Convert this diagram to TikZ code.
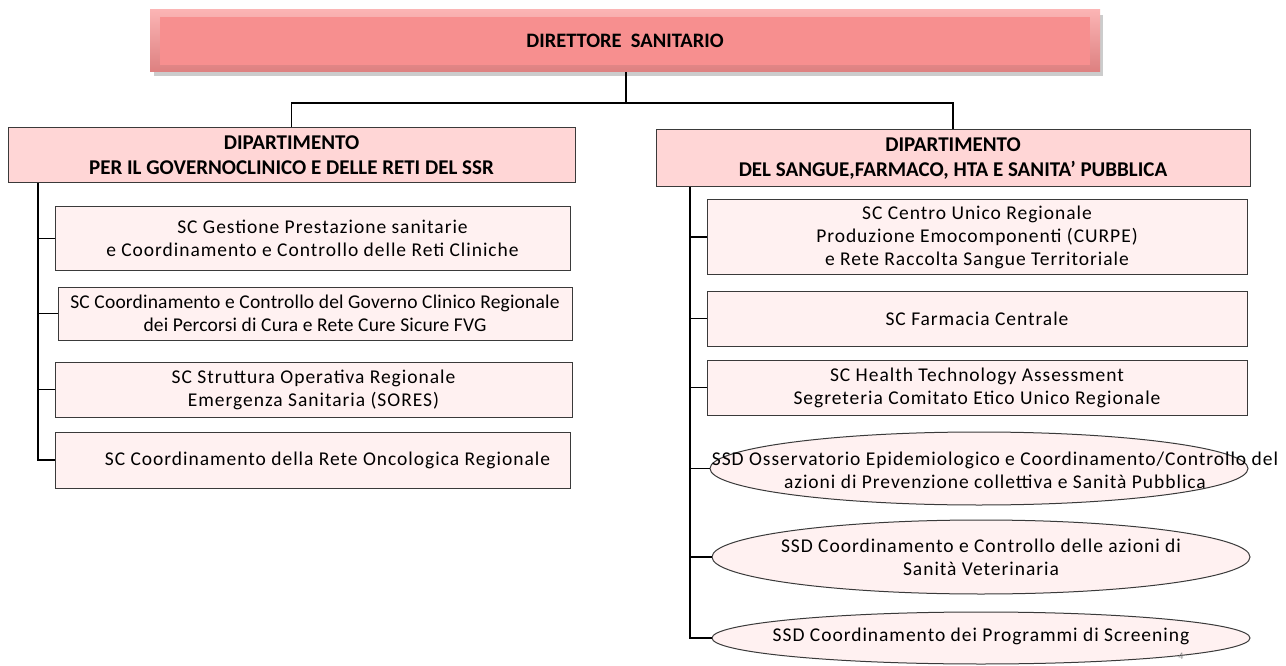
\documentclass[tikz,border=0pt]{standalone}
\usepackage{fontspec}
\setmainfont{Carlito}
\newfontfamily\bodyfont[LetterSpace=5]{Carlito}
\newfontfamily\tightfont[LetterSpace=1]{Carlito}
\usetikzlibrary{shapes.geometric}
\definecolor{topfill}{HTML}{F78F8F}
\definecolor{topedge}{HTML}{FBB4B4}
\definecolor{deptfill}{HTML}{FFD6D6}
\definecolor{subfill}{HTML}{FFF1F1}
\definecolor{edgecol}{HTML}{3A3A3A}
\tikzset{
  deptbox/.style={draw=edgecol, line width=1pt, fill=deptfill, rectangle, inner sep=0pt,
    align=center, font=\fontsize{21}{25}\selectfont\bfseries},
  subbox/.style={draw=edgecol, line width=1pt, fill=subfill, rectangle, inner sep=0pt,
    align=center, font=\bodyfont\fontsize{19.5}{23}\selectfont},
  ellbox/.style={draw=edgecol, line width=1pt, fill=subfill, ellipse, inner sep=0pt},
  elltext/.style={align=center, font=\bodyfont\fontsize{19.5}{23}\selectfont, inner sep=0pt},
  conn/.style={draw=black, line width=1.4pt},
}
\begin{document}
\begin{tikzpicture}[x=1pt, y=-1pt]
\useasboundingbox[fill=white] (0,0) rectangle (1286,666);
% top box with bevel and shadow
\fill[black!20] (154,15) rectangle (1103,76);
\node[rectangle, minimum width=950pt, minimum height=62pt, inner sep=0pt,
  top color=topedge, bottom color=topfill!85!black!70!topfill] (top) at (625,41) {};
\fill[topfill] (160,17) rectangle (1090,65);
\node[font=\fontsize{20.5}{24}\selectfont\bfseries] (toptext) at (top) {DIRETTORE\ \ SANITARIO};
% departments
\node[deptbox, minimum width=567pt, minimum height=55pt] (d1) at (291.5,155.5)
  {DIPARTIMENTO\\PER IL GOVERNOCLINICO E DELLE RETI DEL SSR};
\node[deptbox, minimum width=594pt, minimum height=57pt] (d2) at (953,158.5)
  {DIPARTIMENTO\\DEL SANGUE,FARMACO, HTA E SANITA’ PUBBLICA};
\coordinate (j) at (626,103);
\draw[conn] (top.south -| j) -- (j);
\draw[conn] (d1.north) |- (j) -| (d2.north);
% left sub boxes
\node[subbox, minimum width=515pt, minimum height=63pt] (l1) at (312.5,238.5)
  {\hspace*{20pt}SC Gestione Prestazione sanitarie\\e Coordinamento e Controllo delle Reti Cliniche};
\node[subbox, font=\tightfont\fontsize{19.5}{23}\selectfont, minimum width=514pt, minimum height=53pt] (l2) at (315,313.5)
  {SC Coordinamento e Controllo del Governo Clinico Regionale\\dei Percorsi di Cura e Rete Cure Sicure FVG};
\node[subbox, minimum width=517pt, minimum height=55pt] (l3) at (313.5,389.5)
  {SC Struttura Operativa Regionale\\Emergenza Sanitaria (SORES)};
\node[subbox, minimum width=515pt, minimum height=56pt] (l4) at (312.5,460)
  {\hspace*{30pt}SC Coordinamento della Rete Oncologica Regionale};
\coordinate (ls) at (38,183);
\draw[conn] (ls) |- (l4.west);
\foreach \n in {l1,l2,l3} \draw[conn] (ls |- \n.west) -- (\n.west);
% right sub boxes
\node[subbox, minimum width=540pt, minimum height=74pt] (r1) at (977,237)
  {SC Centro Unico Regionale\\Produzione Emocomponenti (CURPE)\\e Rete Raccolta Sangue Territoriale};
\node[subbox, minimum width=540pt, minimum height=55pt] (r2) at (977,318.5)
  {SC Farmacia Centrale};
\node[subbox, minimum width=540pt, minimum height=55pt] (r3) at (977,387.5)
  {SC Health Technology Assessment\\Segreteria Comitato Etico Unico Regionale};
\node[ellbox, minimum width=538pt, minimum height=73pt] (r4) at (979,468.5) {};
\node[elltext] (r4t) at (995,470) {SSD Osservatorio Epidemiologico e Coordinamento/Controllo del\\azioni di Prevenzione collettiva e Sanità Pubblica};
\node[ellbox, minimum width=538pt, minimum height=74pt] (r5) at (981,557) {};
\node[elltext] (r5t) at (r5) {SSD Coordinamento e Controllo delle azioni di\\Sanità Veterinaria};
\node[ellbox, minimum width=538pt, minimum height=52pt] (r6) at (981,638) {};
\node[elltext] (r6t) at (981,636) {SSD Coordinamento dei Programmi di Screening};
\coordinate (rs) at (690,187);
\draw[conn] (rs) |- (r6.west);
\foreach \n in {r1,r2,r3,r4,r5} \draw[conn] (rs |- \n.west) -- (\n.west);
% page number
\node[font=\fontsize{10}{11}\selectfont, text=black!45, inner sep=0pt] (pg) at (1181,656) {4};
\end{tikzpicture}
\end{document}
